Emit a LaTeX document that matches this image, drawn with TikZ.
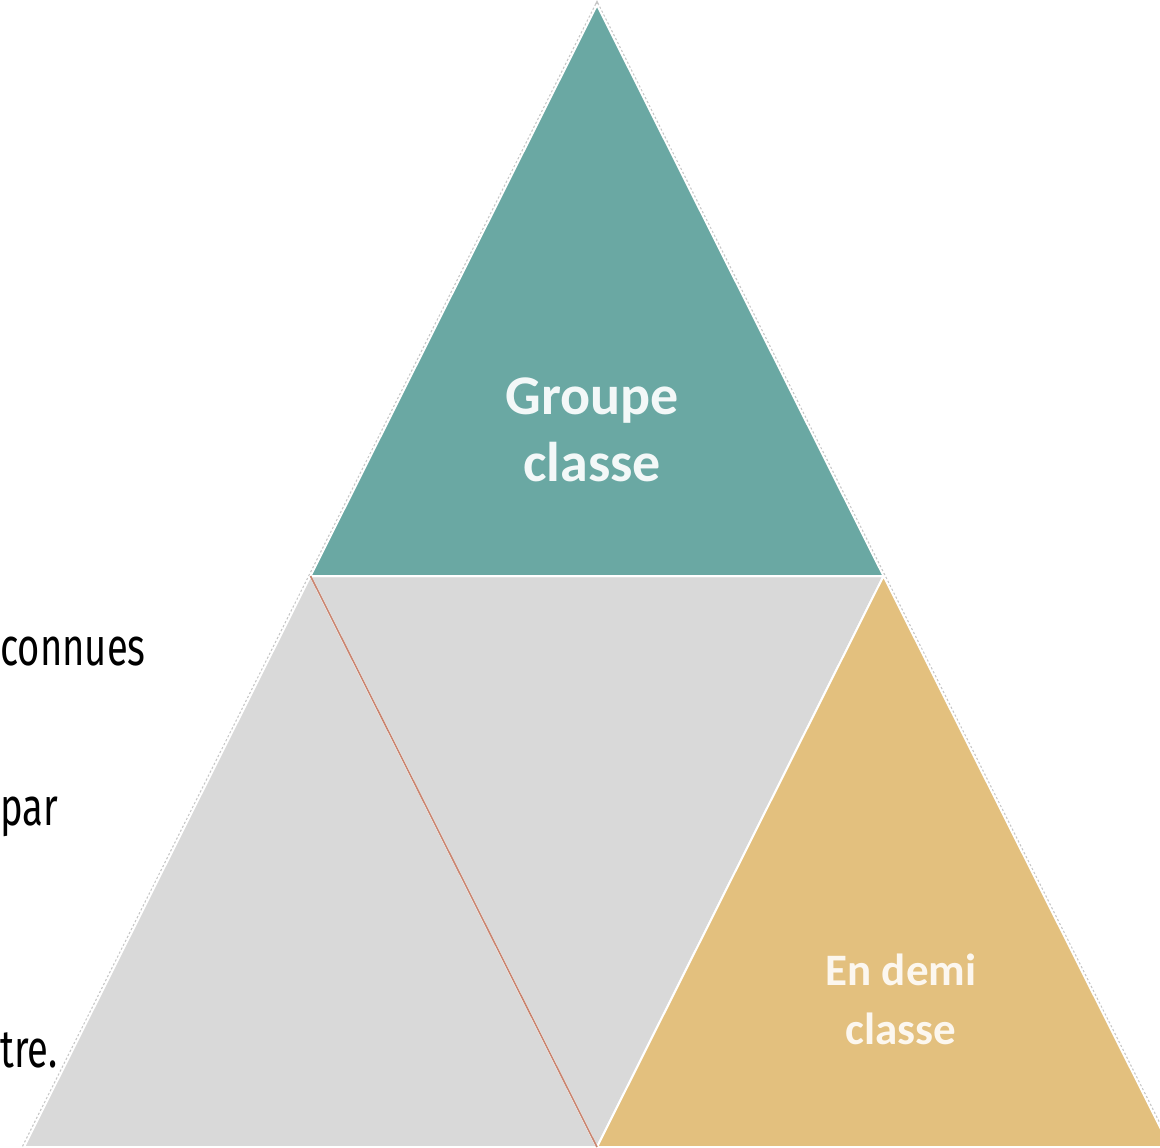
\documentclass[tikz,border=0pt]{standalone}
\usepackage{fontspec}
\setmainfont{Carlito}
\newfontfamily\narrowfont[FakeStretch=0.72]{Fira Sans}
\definecolor{groupteal}{HTML}{6AA8A3}
\definecolor{halfsand}{HTML}{E3C07E}
\definecolor{panelgrey}{HTML}{D9D9D9}
\definecolor{splitred}{HTML}{C98570}
\begin{document}
\begin{tikzpicture}[x=0.5pt,y=-0.5pt,
   piece/.style={draw=white,line width=1pt,line join=round},
   rim/.style={draw=gray!45,line width=2.2pt,dash pattern=on 1.1pt off 1.1pt},
   piecetext/.style={font=\fontsize{28}{33.5}\selectfont\bfseries,align=center},
   note/.style={font=\narrowfont\fontsize{26.5}{30}\selectfont,anchor=base west,inner sep=0pt}]
\useasboundingbox (0,0) rectangle (1160,1147);
\coordinate (top) at (597,5);
\coordinate (left) at (24,1147);
\coordinate (right) at (1170,1147);
\coordinate (midL) at (310.5,576);
\coordinate (midR) at (883.5,576);
\coordinate (midB) at (597,1147);
\draw[rim] (left) -- (top) -- (right);
\fill[panelgrey,piece] (midL) -- (left) -- (midB) -- cycle;
\fill[panelgrey,piece] (midL) -- (midR) -- (midB) -- cycle;
\fill[groupteal,piece] (top) -- (midL) -- (midR) -- cycle;
\fill[halfsand,piece] (midR) -- (midB) -- (right) -- cycle;
\draw[splitred,line width=0.8pt] (midL) -- (midB);
\node[piecetext,text=white!92!groupteal] (groupe) at (592,430) {Groupe\\classe};
\node[piecetext,font=\fontsize{22.5}{29.5}\selectfont\bfseries,text=white!88!halfsand] (demi) at (901,999) {En demi\\classe};
\node[note] (connues) at (0,665) {connues};
\node[note] (par) at (0,825) {par};
\node[note] (tre) at (0,1067) {tre.};
\end{tikzpicture}
\end{document}
